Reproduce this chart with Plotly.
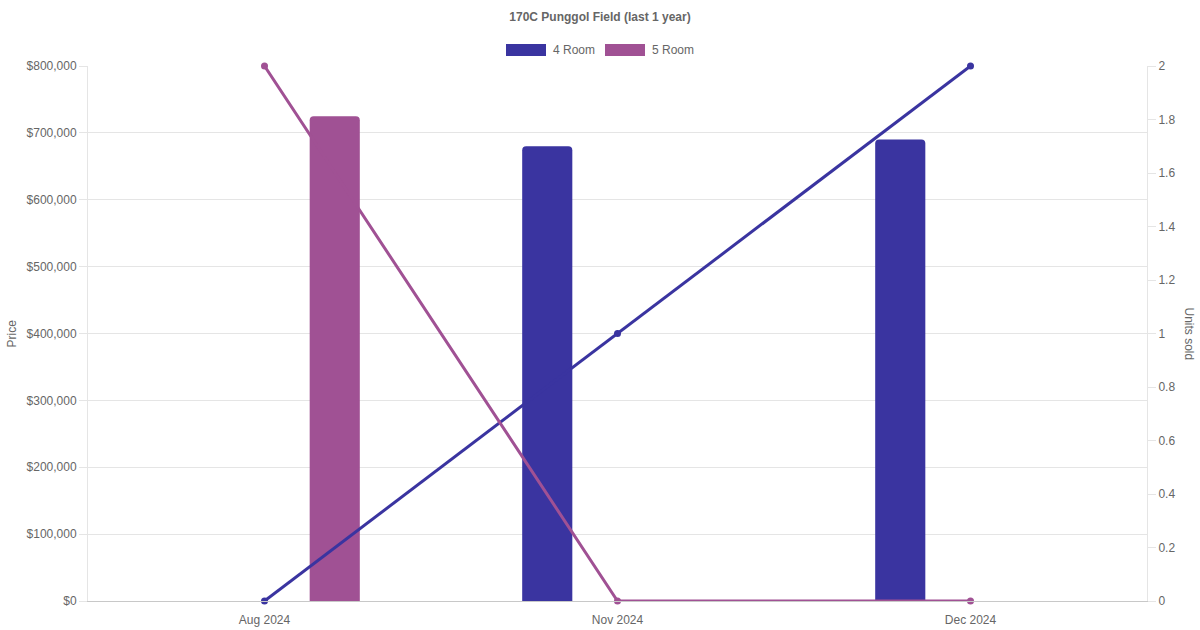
import plotly.graph_objects as go

# data
months = ["Aug 2024", "Nov 2024", "Dec 2024"]
price_4room = [None, 680000, 690000]
price_5room = [725000, None, None]
units_4room = [0, 1, 2]
units_5room = [2, 0, 0]

price_ticks = [0, 100000, 200000, 300000, 400000, 500000, 600000, 700000, 800000]
series_names = ["4 Room", "5 Room"]

C4 = "#3a34a0"
C5 = "#a05194"
GRID = "#e5e5e5"
TXT = "#666666"

W, H = 1200, 630
# plot area in pixels
PL, PR, PT, PB = 88, 1147, 66, 601


def px_x(p):
    return (p - PL) / (PR - PL)


def px_y(p):
    return (PB - p) / (PB - PT)


fig = go.Figure()

fig.add_trace(go.Bar(
    x=months, y=price_4room, name=series_names[0],
    marker=dict(color=C4, line=dict(width=0)),
    width=0.142, offset=-0.27,
))
fig.add_trace(go.Bar(
    x=months, y=price_5room, name=series_names[1],
    marker=dict(color=C5, line=dict(width=0)),
    width=0.142, offset=0.128,
))
fig.add_trace(go.Scatter(
    x=months, y=units_4room, yaxis="y2", mode="lines+markers",
    line=dict(color=C4, width=3), marker=dict(color=C4, size=7),
    cliponaxis=False,
))
fig.add_trace(go.Scatter(
    x=months, y=units_5room, yaxis="y2", mode="lines+markers",
    line=dict(color=C5, width=3), marker=dict(color=C5, size=7),
    cliponaxis=False,
))

# chart.js style legend: wide colour boxes with labels
shapes = []
annotations = []
for name, color, x0 in zip(series_names, [C4, C5], [506, 605]):
    shapes.append(dict(
        type="rect", xref="paper", yref="paper",
        x0=px_x(x0), x1=px_x(x0 + 40), y0=px_y(56), y1=px_y(44),
        fillcolor=color, line=dict(width=0),
    ))
    annotations.append(dict(
        text=name, xref="paper", yref="paper", x=px_x(x0 + 45), y=px_y(50),
        xanchor="left", yanchor="middle", showarrow=False,
        font=dict(size=12, color=TXT),
    ))

annotations.append(dict(
    text="Price", xref="paper", yref="paper", x=px_x(11), y=0.5,
    xanchor="center", yanchor="middle", textangle=-90, showarrow=False,
    font=dict(size=12, color=TXT),
))
annotations.append(dict(
    text="Units sold", xref="paper", yref="paper", x=px_x(1189), y=0.5,
    xanchor="center", yanchor="middle", textangle=90, showarrow=False,
    font=dict(size=12, color=TXT),
))

fig.update_layout(
    width=W, height=H,
    margin=dict(l=PL, r=W - PR, t=PT, b=H - PB, autoexpand=False),
    paper_bgcolor="white", plot_bgcolor="white",
    font=dict(family="Liberation Sans, Arial, sans-serif", size=12, color=TXT),
    barcornerradius=4,
    showlegend=False,
    title=dict(text="<b>170C Punggol Field (last 1 year)</b>", x=0.5, xanchor="center",
               y=1 - 17 / H, yanchor="middle", font=dict(size=12, color=TXT)),
    xaxis=dict(
        type="category", range=[-0.5, 2.5], showgrid=False, automargin=False,
        showline=True, linecolor="#c8c8c8", linewidth=1,
        ticks="", ticklabelstandoff=8, tickfont=dict(size=12, color=TXT),
    ),
    yaxis=dict(
        range=[0, 800000], tickvals=price_ticks, automargin=False,
        ticktext=["${:,}".format(v) for v in price_ticks],
        showgrid=True, gridcolor=GRID, zeroline=False,
        showline=True, linecolor=GRID, ticks="outside", ticklen=8, tickcolor=GRID,
        tickfont=dict(size=12, color=TXT),
    ),
    yaxis2=dict(
        overlaying="y", side="right", range=[0, 2], dtick=0.2, automargin=False,
        showgrid=False, zeroline=False,
        showline=True, linecolor=GRID, ticks="outside", ticklen=8, tickcolor=GRID,
        tickfont=dict(size=12, color=TXT),
    ),
    shapes=shapes,
    annotations=annotations,
)

# drop the browser's default 8px body margin so the page matches the figure size
fig.write_html(
    "out.html",
    config={"displayModeBar": False},
    post_script="document.body.style.margin='0';",
)
